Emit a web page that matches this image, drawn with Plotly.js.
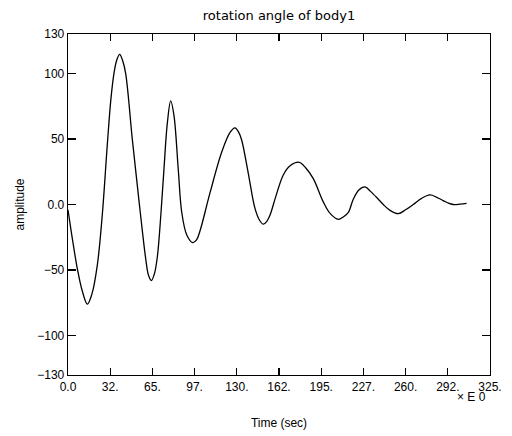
<!DOCTYPE html>
<html>
<head>
<meta charset="utf-8">
<script src="https://cdn.plot.ly/plotly-3.0.1.min.js"></script>
<style>
html, body { margin: 0; padding: 0; background: #ffffff; }
#chart { width: 512px; height: 436px; }
</style>
</head>
<body>
<div id="chart"></div>
<script>
// Time (sec) samples
const timeSec = [0, 3.5, 7.2, 11, 14.9, 18.5, 22.6, 26.4, 30.3, 33, 35.4, 37.5, 39.8, 42, 44.4, 49.5, 53, 56, 59.8, 62, 64.2, 66.5, 68.8, 71.5, 73.9, 76.5, 79.1, 81.6, 84.9, 87.6, 91.4, 96, 99, 101.7, 109.4, 118.4, 124.8, 128.6, 131.5, 133.8, 138.8, 144, 147.5, 150.4, 153, 155.6, 160, 165.8, 171, 178.1, 183, 188.9, 196.6, 202, 208.2, 212, 215.9, 219.7, 224, 228.7, 233, 239, 242.8, 248, 254.4, 260, 265.9, 272, 278.8, 284, 289, 293, 296.7, 302, 307];
// rotation angle of body1 (amplitude)
const amplitude = [-4, -27, -49, -66, -76, -68, -46, -8, 46, 80, 100, 110, 114.5, 110, 100, 50, 18, -9, -41, -54, -58, -53, -40, -8, 27, 62, 79, 68, 27, -6, -23, -29, -27, -20, 9, 40, 55, 58.5, 55, 49, 24, -3, -12, -15, -13, -8, 6, 22.5, 29.5, 32.2, 28, 19.7, 2, -7, -11.3, -9.5, -6, 4, 11, 13.4, 10, 4, 0, -4.5, -7, -4, 0, 4.5, 7.3, 5.5, 3, 1, 0, 0.3, 0.8];

const xTickVals = [0, 32.5, 65, 97.5, 130, 162.5, 195, 227.5, 260, 292.5, 325];
const xTickText = ['0.0', '32.', '65.', '97.', '130.', '162.', '195.', '227.', '260.', '292.', '325.'];
const yTickVals = [-130, -100, -50, 0, 50, 100, 130];
const yTickText = ['\u2212130', '\u2212100', '\u221250', '0.0', '50', '100', '130'];

const fontFam = 'Liberation Sans, Arial, sans-serif';

const trace = {
  x: timeSec,
  y: amplitude,
  type: 'scatter',
  mode: 'lines',
  line: { color: '#000000', width: 1.3, shape: 'spline', smoothing: 1 },
  hoverinfo: 'skip',
  showlegend: false
};

const layout = {
  width: 512,
  height: 436,
  margin: { l: 68, r: 22, t: 34, b: 61, pad: 0 },
  paper_bgcolor: '#ffffff',
  plot_bgcolor: '#ffffff',
  font: { family: fontFam, size: 12, color: '#000000' },
  title: {
    text: 'rotation angle of body1',
    font: { family: 'DejaVu Sans, sans-serif', size: 13, color: '#000000' },
    x: 0.5, xref: 'paper', xanchor: 'center',
    y: 1 - 15 / 436, yref: 'container', yanchor: 'middle'
  },
  xaxis: {
    range: [0, 325],
    tickmode: 'array',
    tickvals: xTickVals,
    ticktext: xTickText,
    ticks: 'inside',
    ticklen: 7,
    tickwidth: 1.2,
    tickcolor: '#000000',
    showline: true,
    linecolor: '#000000',
    linewidth: 1.3,
    mirror: 'ticks',
    showgrid: false,
    zeroline: false,
    tickfont: { family: fontFam, size: 12, color: '#000000' },
    title: { text: 'Time (sec)', font: { family: fontFam, size: 12, color: '#000000' }, standoff: 26 }
  },
  yaxis: {
    range: [-130, 130],
    tickmode: 'array',
    tickvals: yTickVals,
    ticktext: yTickText,
    ticks: 'inside',
    ticklen: 8,
    tickwidth: 1.2,
    tickcolor: '#000000',
    showline: true,
    linecolor: '#000000',
    linewidth: 1.3,
    mirror: 'ticks',
    showgrid: false,
    zeroline: false,
    tickfont: { family: fontFam, size: 12, color: '#000000' },
    title: { text: 'amplitude', font: { family: fontFam, size: 12, color: '#000000' }, standoff: 10 }
  },
  annotations: [
    {
      text: '\u00d7 E 0',
      xref: 'paper', yref: 'paper',
      x: (471 - 68) / 422, y: (375 - 397) / 341,
      xanchor: 'center', yanchor: 'middle',
      showarrow: false,
      font: { family: fontFam, size: 12, color: '#000000' }
    }
  ]
};

Plotly.newPlot('chart', [trace], layout, { staticPlot: true, displayModeBar: false });
</script>
</body>
</html>
